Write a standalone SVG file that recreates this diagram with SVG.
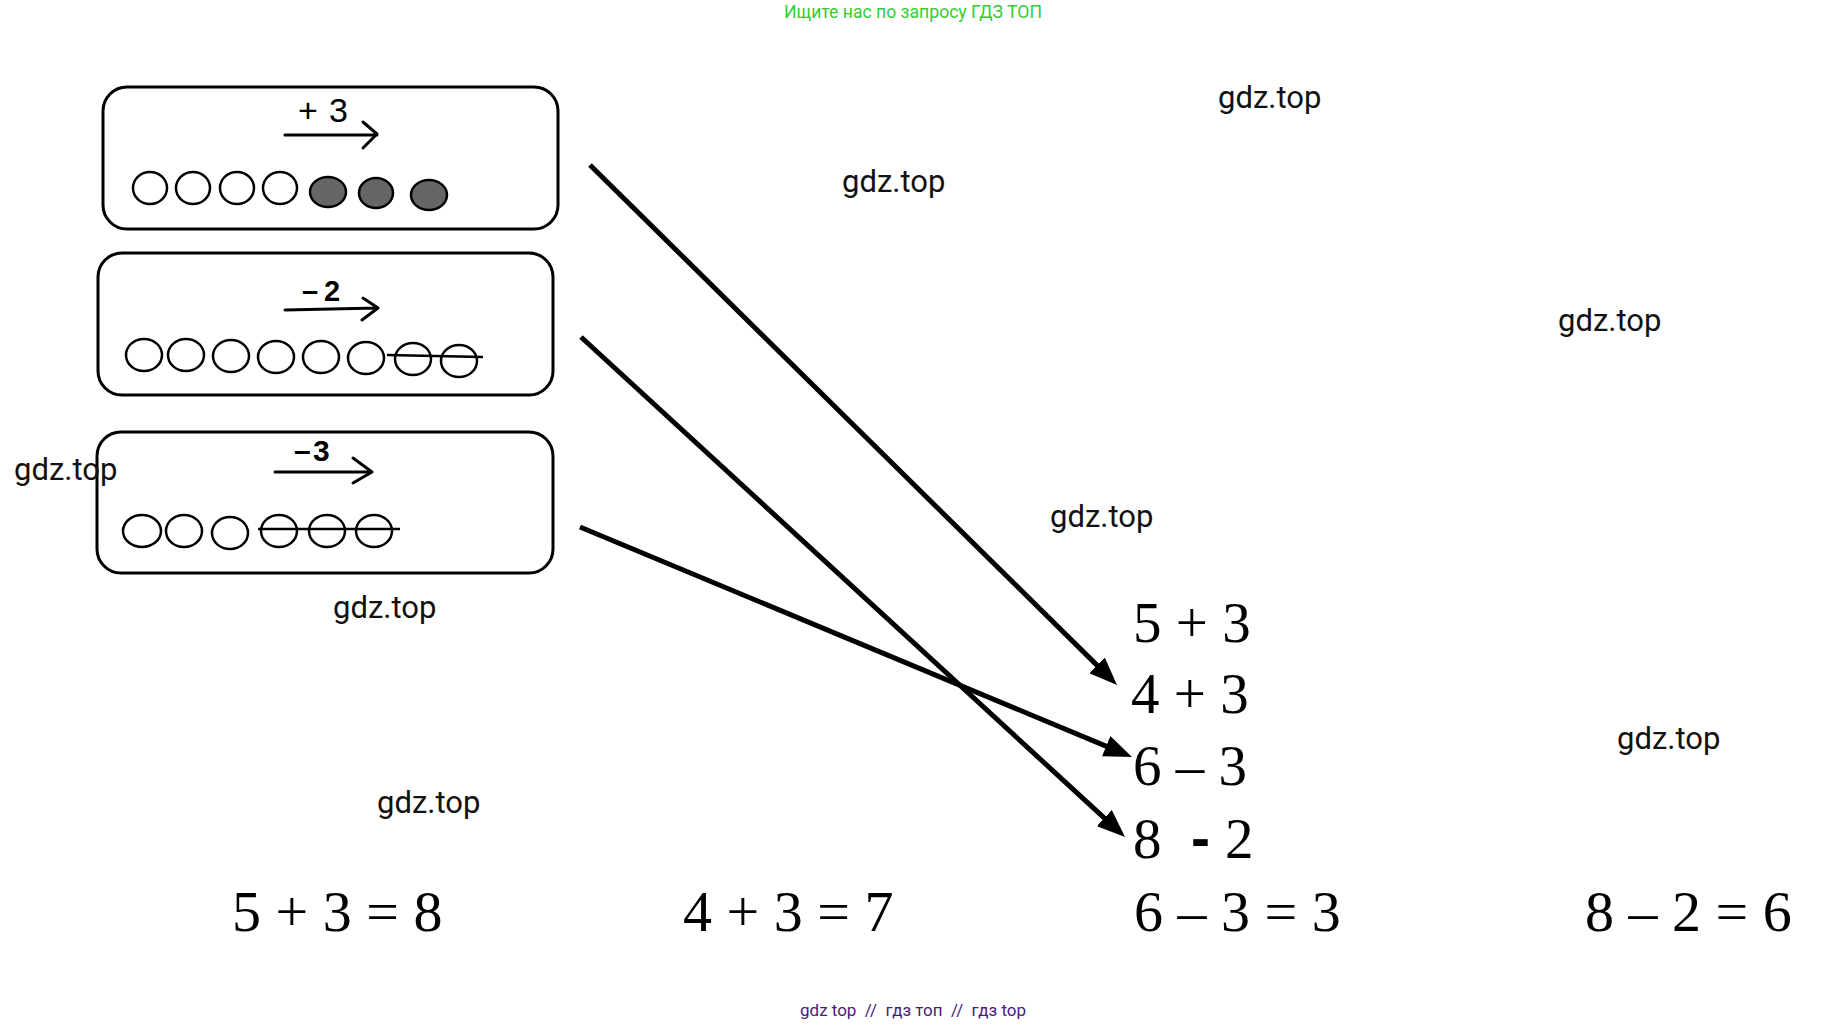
<svg xmlns="http://www.w3.org/2000/svg" width="1827" height="1025" viewBox="0 0 1827 1025">
<defs>
<style>
.box{fill:#fff;stroke:#000;stroke-width:3}
.c{fill:#fff;stroke:#000;stroke-width:2.5}
.cf{fill:#666;stroke:#000;stroke-width:2.5}
.st{fill:none;stroke:#000;stroke-width:2.5}
.ar{fill:none;stroke:#000;stroke-width:3;stroke-linecap:round;stroke-linejoin:round}
.lab{font-family:"Liberation Sans",Arial,sans-serif;fill:#000}
.wm{font-family:Roboto,"Noto Sans",sans-serif;font-size:31px;fill:#111}
.ex{font-family:"Liberation Serif","Times New Roman",serif;font-size:57px;fill:#000}
.eq{font-family:"Liberation Serif","Times New Roman",serif;font-size:58px;fill:#000}
.conn{fill:none;stroke:#000;stroke-width:5}
</style>
<marker id="head" viewBox="0 0 28 22" markerWidth="28" markerHeight="22" markerUnits="userSpaceOnUse" refX="20" refY="11" orient="auto">
<polygon points="0,0 28,11 0,22" fill="#000"/>
</marker>
</defs>
<rect width="1827" height="1025" fill="#fff"/>

<text x="913" y="18" text-anchor="middle" font-family="Roboto,'Noto Sans',sans-serif" font-size="17.6" fill="#33cc33">Ищите нас по запросу ГДЗ ТОП</text>

<g id="box1">
<rect class="box" x="103" y="87" width="455" height="142" rx="24"/>
<text class="lab" y="122" font-size="34"><tspan x="298">+</tspan><tspan x="329">3</tspan></text>
<path class="ar" d="M285 135 L377 135 M363 122 L377 134 L363 148"/>
<ellipse class="c" cx="150" cy="188" rx="17" ry="16"/>
<ellipse class="c" cx="193" cy="188" rx="17" ry="16"/>
<ellipse class="c" cx="237" cy="188" rx="17" ry="16"/>
<ellipse class="c" cx="280" cy="188" rx="17" ry="16"/>
<ellipse class="cf" cx="328" cy="192" rx="18" ry="15"/>
<ellipse class="cf" cx="376" cy="193" rx="17" ry="15"/>
<ellipse class="cf" cx="429" cy="195" rx="18" ry="15"/>
</g>

<g id="box2">
<rect class="box" x="98" y="253" width="455" height="142" rx="24"/>
<text class="lab" y="301" font-weight="bold" font-size="29"><tspan x="302">–</tspan><tspan x="324">2</tspan></text>
<path class="ar" d="M285 310 L378 308 M363 298 L378 308 L362 320"/>
<ellipse class="c" cx="144" cy="355" rx="18" ry="16"/>
<ellipse class="c" cx="186" cy="355" rx="18" ry="16"/>
<ellipse class="c" cx="231" cy="356" rx="18" ry="16"/>
<ellipse class="c" cx="276" cy="357" rx="18" ry="16"/>
<ellipse class="c" cx="321" cy="357" rx="18" ry="16"/>
<ellipse class="c" cx="366" cy="358" rx="18" ry="16"/>
<ellipse class="c" cx="413" cy="359" rx="18" ry="16"/>
<ellipse class="c" cx="459" cy="361" rx="18" ry="16"/>
<path class="st" d="M387 355 L483 357"/>
</g>

<g id="box3">
<rect class="box" x="97" y="432" width="456" height="141" rx="24"/>
<text class="lab" y="461" font-weight="bold" font-size="30"><tspan x="294">–</tspan><tspan x="313">3</tspan></text>
<path class="ar" d="M275 472 L372 472 M353 458 L372 472 L353 483"/>
<ellipse class="c" cx="142" cy="531" rx="19" ry="16"/>
<ellipse class="c" cx="184" cy="531" rx="18" ry="16"/>
<ellipse class="c" cx="230" cy="533" rx="18" ry="16"/>
<ellipse class="c" cx="279" cy="531" rx="18" ry="16"/>
<ellipse class="c" cx="327" cy="531" rx="18" ry="16"/>
<ellipse class="c" cx="374" cy="531" rx="18" ry="16"/>
<path class="st" d="M258 529 L400 529"/>
</g>

<g id="connectors">
<path class="conn" d="M590 165 L1111.3 679.4" marker-end="url(#head)"/>
<path class="conn" d="M581 337 L1119.1 831.6" marker-end="url(#head)"/>
<path class="conn" d="M580 527 L1124.6 753.9" marker-end="url(#head)"/>
</g>

<g id="expr1"><text class="ex" x="1133" y="642">5 + 3</text></g>
<g id="expr2"><text class="ex" x="1131" y="713">4 + 3</text></g>
<g id="expr3"><text class="ex" x="1133" y="785">6 – 3</text></g>
<g id="expr4"><text class="ex" x="1133" y="858">8<tspan x="1191" font-family="'Liberation Sans',Arial,sans-serif" font-weight="bold">-</tspan><tspan x="1225">2</tspan></text></g>

<g id="results">
<text class="eq" x="232" y="931">5 + 3 = 8</text>
<text class="eq" x="683" y="931">4 + 3 = 7</text>
<text class="eq" x="1134" y="931">6 – 3 = 3</text>
<text class="eq" x="1585" y="931">8 – 2 = 6</text>
</g>

<g id="watermarks">
<text class="wm" x="1218" y="108">gdz.top</text>
<text class="wm" x="842" y="192">gdz.top</text>
<text class="wm" x="1558" y="331">gdz.top</text>
<text class="wm" x="14" y="480">gdz.top</text>
<text class="wm" x="1050" y="527">gdz.top</text>
<text class="wm" x="333" y="618">gdz.top</text>
<text class="wm" x="1617" y="749">gdz.top</text>
<text class="wm" x="377" y="813">gdz.top</text>
</g>

<text x="800" y="1016" xml:space="preserve" font-family="Roboto,'Noto Sans',sans-serif" font-size="17" fill="#4a1a80">gdz top  //  гдз топ  //  гдз top</text>
</svg>
